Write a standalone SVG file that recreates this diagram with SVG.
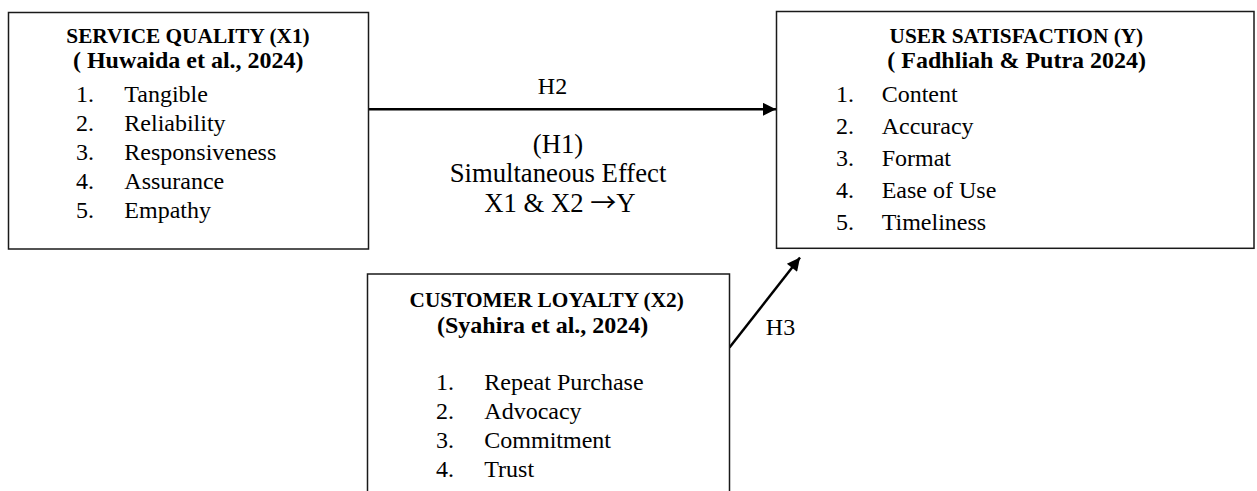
<svg xmlns="http://www.w3.org/2000/svg" width="1257" height="491" viewBox="0 0 1257 491">
<defs>
<style>
text{font-family:"Liberation Serif","Times New Roman",serif;fill:#000}
.box{fill:#fff;stroke:#1a1a1a;stroke-width:1.5}
.t1{font-weight:bold;font-size:21.3px;text-anchor:middle}
.t2{font-weight:bold;font-size:24px;text-anchor:middle}
.li{font-size:24px}
.lbl{font-size:24px;text-anchor:middle}
.lbl2{font-size:26.7px;text-anchor:middle}
.st{text-anchor:start}
.arr{font-family:"Noto Sans CJK JP",sans-serif;font-size:26px}
.conn{stroke:#000;stroke-width:2.5;fill:none}
</style>
<marker id="ah" viewBox="0 0 10 10" refX="10" refY="5" markerUnits="userSpaceOnUse" markerWidth="17" markerHeight="13" orient="auto">
<path d="M0,0 L10,5 L0,10 Z" fill="#000"/>
</marker>
</defs>
<g id="connectors">
<line class="conn" x1="368.5" y1="109.3" x2="776" y2="109.3" marker-end="url(#ah)"/>
<line class="conn" x1="729.5" y1="347.5" x2="800" y2="257.5" marker-end="url(#ah)"/>
<text class="lbl" x="552.5" y="93.8">H2</text>
<text class="lbl" x="780.5" y="335">H3</text>
<text class="lbl2" x="558" y="152.7">(H1)</text>
<text class="lbl2" x="558" y="181.7">Simultaneous Effect</text>
<text class="lbl2 st" x="484.3" y="211.7">X1 &amp; X2 <tspan class="arr">→</tspan>Y</text>
</g>
<g id="x1">
<rect class="box" x="8.5" y="12.5" width="360" height="236.5"/>
<text class="t1" x="188" y="42.7">SERVICE QUALITY (X1)</text>
<text class="t2" x="188.3" y="68.3">( Huwaida et al., 2024)</text>
<text class="li" x="76" y="101.5">1.</text><text class="li" x="124.3" y="101.5">Tangible</text>
<text class="li" x="76" y="130.5">2.</text><text class="li" x="124.3" y="130.5">Reliability</text>
<text class="li" x="76" y="159.5">3.</text><text class="li" x="124.3" y="159.5">Responsiveness</text>
<text class="li" x="76" y="188.5">4.</text><text class="li" x="124.3" y="188.5">Assurance</text>
<text class="li" x="76" y="217.5">5.</text><text class="li" x="124.3" y="217.5">Empathy</text>
</g>
<g id="y">
<rect class="box" x="776.5" y="11.5" width="477.5" height="236.8"/>
<text class="t1" x="1016.4" y="42.7">USER SATISFACTION (Y)</text>
<text class="t2" x="1016.7" y="68.3">( Fadhliah &amp; Putra 2024)</text>
<text class="li" x="836" y="101.7">1.</text><text class="li" x="881.7" y="101.7">Content</text>
<text class="li" x="836" y="133.7">2.</text><text class="li" x="881.7" y="133.7">Accuracy</text>
<text class="li" x="836" y="165.8">3.</text><text class="li" x="881.7" y="165.8">Format</text>
<text class="li" x="836" y="197.9">4.</text><text class="li" x="881.7" y="197.9">Ease of Use</text>
<text class="li" x="836" y="230">5.</text><text class="li" x="881.7" y="230">Timeliness</text>
</g>
<g id="x2">
<path class="box" d="M367.5,495 V274 H729.5 V495"/>
<text class="t1" x="546.7" y="307">CUSTOMER LOYALTY (X2)</text>
<text class="t2" x="542.7" y="333">(Syahira et al., 2024)</text>
<text class="li" x="436" y="390">1.</text><text class="li" x="484.3" y="390">Repeat Purchase</text>
<text class="li" x="436" y="419">2.</text><text class="li" x="484.3" y="419">Advocacy</text>
<text class="li" x="436" y="448">3.</text><text class="li" x="484.3" y="448">Commitment</text>
<text class="li" x="436" y="477">4.</text><text class="li" x="484.3" y="477">Trust</text>
</g>
</svg>
